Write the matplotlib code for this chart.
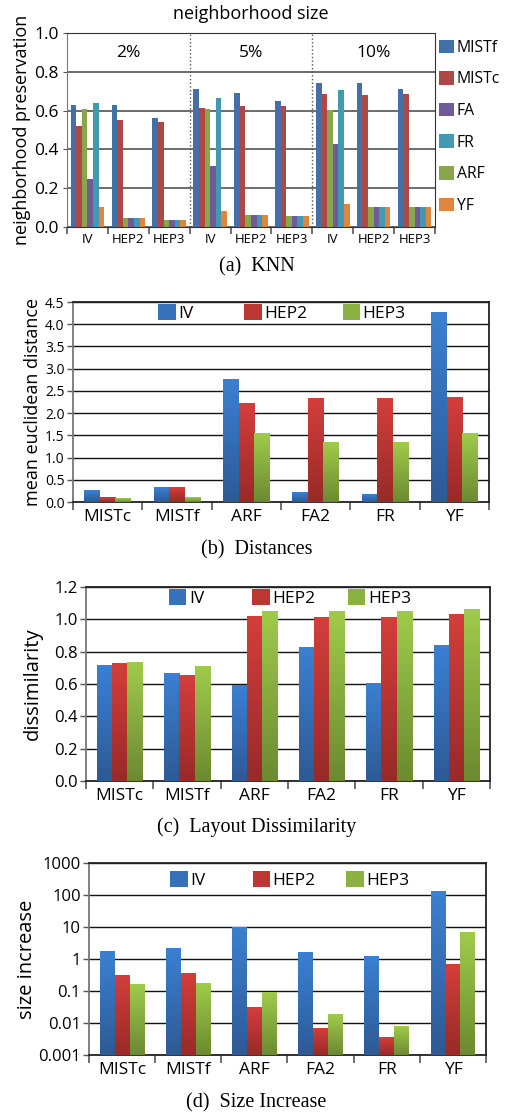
import numpy as np
import matplotlib
matplotlib.use('Agg')
import matplotlib.pyplot as plt
from matplotlib.colors import LinearSegmentedColormap
from matplotlib.patches import Patch

plt.rcParams['font.family'] = ['Open Sans', 'DejaVu Sans']

# ---- data -------------------------------------------------------------
# (a) KNN neighborhood preservation, 3 neighborhood sizes x 3 datasets
knn_groups = ['IV', 'HEP2', 'HEP3'] * 3
knn_sizes = ['2%', '5%', '10%']
knn_methods = ['MISTf', 'MISTc', 'ARF', 'FA', 'FR', 'YF']   # bar order
knn_legend = ['MISTf', 'MISTc', 'FA', 'FR', 'ARF', 'YF']    # legend order
knn_mistf = [0.628, 0.630, 0.562, 0.709, 0.693, 0.652, 0.740, 0.743, 0.709]
knn_mistc = [0.520, 0.553, 0.540, 0.614, 0.624, 0.626, 0.686, 0.679, 0.684]
knn_arf = [0.610, 0.045, 0.035, 0.607, 0.060, 0.055, 0.603, 0.103, 0.102]
knn_fa = [0.245, 0.045, 0.035, 0.314, 0.060, 0.055, 0.426, 0.103, 0.102]
knn_fr = [0.640, 0.045, 0.035, 0.664, 0.060, 0.055, 0.705, 0.103, 0.102]
knn_yf = [0.105, 0.045, 0.035, 0.085, 0.060, 0.055, 0.120, 0.103, 0.102]

# (b)-(d) per layout method, datasets IV / HEP2 / HEP3
layouts = ['MISTc', 'MISTf', 'ARF', 'FA2', 'FR', 'YF']
datasets = ['IV', 'HEP2', 'HEP3']

dist_iv = [0.26, 0.33, 2.76, 0.22, 0.17, 4.27]
dist_hep2 = [0.105, 0.33, 2.22, 2.33, 2.33, 2.355]
dist_hep3 = [0.08, 0.105, 1.545, 1.34, 1.34, 1.545]

diss_iv = [0.716, 0.667, 0.588, 0.827, 0.605, 0.840]
diss_hep2 = [0.728, 0.654, 1.018, 1.012, 1.012, 1.031]
diss_hep3 = [0.733, 0.710, 1.049, 1.049, 1.049, 1.062]

size_iv = [1.66, 2.2, 9.8, 1.55, 1.24, 128.0]
size_hep2 = [0.316, 0.36, 0.0295, 0.0065, 0.0034, 0.65]
size_hep3 = [0.158, 0.17, 0.089, 0.019, 0.0075, 6.5]

# ---- styles -------------------------------------------------------------
W, H = 505, 1119
knn_colors = {'MISTf': '#4470A8', 'MISTc': '#AD4847', 'ARF': '#8AA64C',
              'FA': '#715A98', 'FR': '#4399B2', 'YF': '#E0853C'}
grad_colors = [('#2E5A95', '#3B80D2'), ('#982A28', '#D43E3B'), ('#6C8A30', '#9FCB4B')]
legend_x = [0.205, 0.412, 0.648]
serif = ['Liberation Serif', 'DejaVu Serif']

fig = plt.figure(figsize=(W / 100, H / 100), dpi=100)


def px_axes(left, top, right, bottom):
    return fig.add_axes([left / W, 1 - bottom / H, (right - left) / W, (bottom - top) / H])


def caption(y, text):
    fig.text(0.508, 1 - y / H, text, ha='center', va='center', family=serif, fontsize=14.5)


def shade(ax, bars, dark, light):
    # vertical gradient drawn in axes coordinates (works for log axes too)
    cmap = LinearSegmentedColormap.from_list('g', [dark, light])
    to_ax = ax.transData + ax.transAxes.inverted()
    ymin = ax.get_ylim()[0]
    grad = np.linspace(0, 1, 128).reshape(-1, 1)
    for b in bars:
        x0, x1 = b.get_x(), b.get_x() + b.get_width()
        y0, y1 = max(b.get_y(), ymin), b.get_y() + b.get_height()
        (ax0, ay0), (ax1, ay1) = to_ax.transform([(x0, y0), (x1, y1)])
        ax.imshow(grad, cmap=cmap, origin='lower', aspect='auto', interpolation='bilinear',
                  extent=(ax0, ax1, ay0, ay1), transform=ax.transAxes, zorder=3)


def grouped(ax, v1, v2, v3, ylim, yticks, ylabel, yfmt, ylabelsize, label_x, leg_y, log=False):
    x = np.arange(len(layouts))
    w = 0.225
    if log:
        ax.set_yscale('log')
    ax.set_xlim(-0.5, len(layouts) - 0.5)
    ax.set_ylim(*ylim)
    bottom = ylim[0] if log else 0
    for k, vals in enumerate([v1, v2, v3]):
        dark, light = grad_colors[k]
        bars = ax.bar(x + (k - 1) * w, np.array(vals) - bottom, w, bottom=bottom,
                      color=light, zorder=2)
        shade(ax, bars, dark, light)
    ax.set_yticks(yticks)
    ax.set_yticklabels(yfmt)
    ax.minorticks_off()
    ax.set_xticks(x)
    ax.set_xticklabels(layouts)
    ax.set_xticks(np.arange(len(layouts) + 1) - 0.5, minor=True)
    ax.tick_params(axis='x', which='major', length=0, labelsize=12.5, pad=5)
    ax.tick_params(axis='x', which='minor', length=6, width=1.2, color='#555555', direction='out')
    ax.tick_params(axis='y', length=4, width=1, labelsize=12, pad=2, color='#555555')
    ax.yaxis.grid(True, color='#111111', lw=1)
    ax.set_axisbelow(True)
    for s in ax.spines.values():
        s.set_color('#222222')
        s.set_linewidth(1.3)
    ax.spines['left'].set_color('#777777')
    ax.set_ylabel(ylabel, fontsize=ylabelsize)
    ax.yaxis.set_label_coords(label_x, 0.5)
    # one legend per dataset so the entries sit at fixed spots like the original
    for k, name in enumerate(datasets):
        dark, light = grad_colors[k]
        mid = LinearSegmentedColormap.from_list('m', [dark, light])(0.6)
        leg = ax.legend([Patch(facecolor=mid, edgecolor='none')], [name], loc='center left',
                        bbox_to_anchor=(legend_x[k], leg_y), frameon=False, fontsize=12.5,
                        handlelength=1.0, handleheight=1.0, handletextpad=0.15,
                        borderpad=0, borderaxespad=0)
        if k < 2:
            ax.add_artist(leg)


# ---- (a) KNN --------------------------------------------------------------
ax = px_axes(67, 33, 435, 227)
vals = {'MISTf': knn_mistf, 'MISTc': knn_mistc, 'ARF': knn_arf,
        'FA': knn_fa, 'FR': knn_fr, 'YF': knn_yf}
xg = np.arange(len(knn_groups))
bw = 0.137
bars_a = {}
for k, m in enumerate(knn_methods):
    bars_a[m] = ax.bar(xg + (k - 2.5) * bw, vals[m], bw, color=knn_colors[m], zorder=2)
ax.set_xlim(-0.5, len(knn_groups) - 0.5)
ax.set_ylim(0, 1.0)
ax.set_yticks(np.arange(0, 1.01, 0.2))
ax.set_yticklabels(['%.1f' % t for t in np.arange(0, 1.01, 0.2)])
ax.set_xticks(xg)
ax.set_xticklabels(knn_groups)
ax.set_xticks(np.arange(len(knn_groups) + 1) - 0.5, minor=True)
ax.tick_params(axis='x', which='major', length=0, labelsize=9.5, pad=4)
ax.tick_params(axis='x', which='minor', length=5, width=1.2, color='#555555')
ax.tick_params(axis='y', length=3, labelsize=12.5, pad=3, color='#555555')
ax.yaxis.grid(True, color='#444444', lw=1.1)
ax.set_axisbelow(True)
for s in ax.spines.values():
    s.set_color('#333333')
ax.spines['left'].set_color('#777777')
for xb in [2.5, 5.5]:
    ax.axvline(xb, color='#555555', ls=':', lw=1, zorder=1)
for i, lab in enumerate(knn_sizes):
    ax.text(3 * i + 1, 0.897, lab, ha='center', va='center', fontsize=12.5)
ax.set_ylabel('neighborhood preservation', fontsize=13, labelpad=2)
ax.set_title('neighborhood size', fontsize=13, pad=10)
ax.legend([bars_a[m][0] for m in knn_legend], knn_legend, loc='upper left',
          bbox_to_anchor=(1.012, 0.965), frameon=False, fontsize=11.3,
          handlelength=0.95, handleheight=0.95, handletextpad=0.15,
          labelspacing=0.98, borderaxespad=0, borderpad=0)
caption(267, '(a)  KNN')

# ---- (b) Distances ------------------------------------------------------
ax = px_axes(73, 302, 489, 502)
ticks_b = np.arange(0, 4.51, 0.5)
grouped(ax, dist_iv, dist_hep2, dist_hep3, (0, 4.5), ticks_b,
        'mean euclidean distance', ['%.1f' % t for t in ticks_b], 13, -0.075, 0.945)
ax.tick_params(axis='y', labelsize=10)
caption(550, '(b)  Distances')

# ---- (c) Layout Dissimilarity ---------------------------------------------
ax = px_axes(86, 587, 490, 781)
ticks_c = np.arange(0, 1.21, 0.2)
grouped(ax, diss_iv, diss_hep2, diss_hep3, (0, 1.2), ticks_c,
        'dissimilarity', ['%.1f' % t for t in ticks_c], 14.5, -0.106, 0.943)
caption(827, '(c)  Layout Dissimilarity')

# ---- (d) Size Increase ----------------------------------------------------
ax = px_axes(89, 863, 486, 1055)
ticks_d = [0.001, 0.01, 0.1, 1, 10, 100, 1000]
grouped(ax, size_iv, size_hep2, size_hep3, (0.001, 1000), ticks_d,
        'size increase', ['0.001', '0.01', '0.1', '1', '10', '100', '1000'], 14.5,
        -0.131, 0.91, log=True)
caption(1103, '(d)  Size Increase')

fig.savefig('out.png', dpi=100)
